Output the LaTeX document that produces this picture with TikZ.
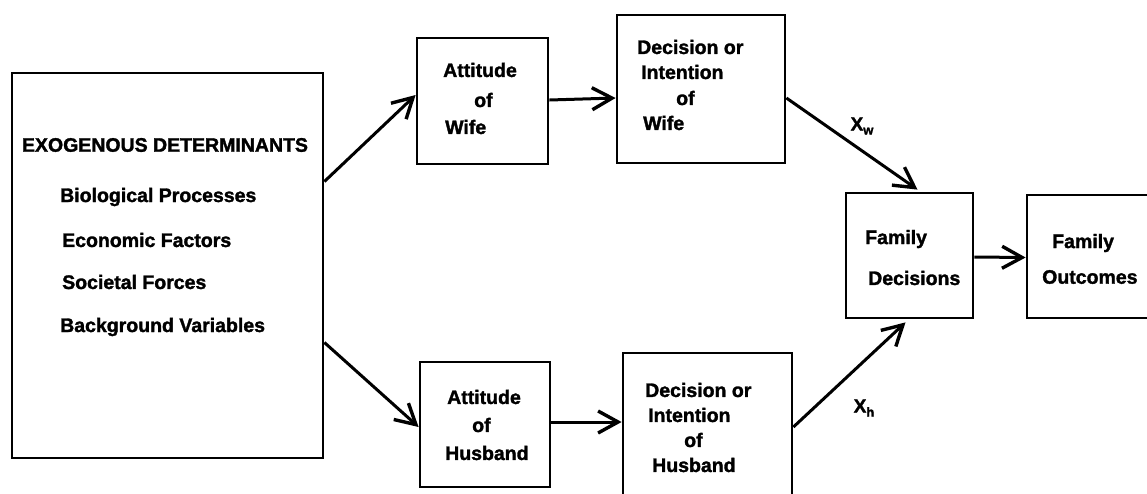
\documentclass[tikz,border=0pt]{standalone}
\usepackage{fontspec}
\setmainfont{Liberation Sans}[BoldFeatures={FakeBold=1.6}]
\usetikzlibrary{arrows.meta}
\begin{document}
\begin{tikzpicture}[x=1pt,y=-1pt,
  box/.style={draw=black,line width=2.8pt,minimum width=#1,inner sep=0pt},
  lbl/.style={anchor=west,inner sep=0pt,font=\fontsize{19.5}{22}\selectfont\bfseries},
  arr/.style={line width=3pt,-{Straight Barb[length=20pt,width=22pt,line width=3.4pt]}},
  tip/.style={inner sep=0pt,font=\fontsize{19}{22}\selectfont\bfseries}]
\useasboundingbox[fill=white] (0,0) rectangle (1147,493);
% boxes
\node[box=311pt,minimum height=385pt] (exo) at (167.5,265.5) {};
\node[box=131pt,minimum height=126pt] (aw) at (482.5,101) {};
\node[box=168pt,minimum height=148pt] (dw) at (701,89) {};
\node[box=130pt,minimum height=125pt] (ah) at (485,424.5) {};
\node[box=169pt,minimum height=150pt] (dh) at (707.5,428) {};
\node[box=127pt,minimum height=125pt] (fd) at (909.5,255.5) {};
\node[box=126pt,minimum height=123pt] (fo) at (1090,256.5) {};
% texts
\node[lbl,anchor=center] (t0) at (165,145) {EXOGENOUS DETERMINANTS};
\node[lbl] (t1) at (60,197) {Biological Processes};
\node[lbl] (t2) at (62,240) {Economic Factors};
\node[lbl] (t3) at (62,282) {Societal Forces};
\node[lbl] (t4) at (60,327) {Background Variables};
\node[lbl] (aw1) at (443,70) {Attitude};
\node[lbl] (aw2) at (474,100) {of};
\node[lbl] (aw3) at (445,127) {Wife};
\node[lbl] (dw1) at (637,47) {Decision or};
\node[lbl] (dw2) at (641,72) {Intention};
\node[lbl] (dw3) at (676,98) {of};
\node[lbl] (dw4) at (643,123) {Wife};
\node[lbl] (ah1) at (447,397) {Attitude};
\node[lbl] (ah2) at (472,425) {of};
\node[lbl] (ah3) at (445,453) {Husband};
\node[lbl] (dh1) at (645,390) {Decision or};
\node[lbl] (dh2) at (648,415) {Intention};
\node[lbl] (dh3) at (684,440) {of};
\node[lbl] (dh4) at (652,465) {Husband};
\node[lbl] (fd1) at (865,239) {Family};
\node[lbl] (fd2) at (868,278) {Decisions};
\node[lbl] (fo1) at (1052,243) {Family};
\node[lbl] (fo2) at (1042,277) {Outcomes};
\node[tip] (xw) at (862,126) {X\raisebox{-4pt}{\fontsize{13}{13}\selectfont w}};
\node[tip] (xh) at (864,408) {X\raisebox{-4pt}{\fontsize{13}{13}\selectfont h}};
% connectors
\draw[arr] ([yshift=84pt]exo.east) -- ([yshift=6pt]aw.west);
\draw[arr] ([yshift=-77pt]exo.east) -- ([yshift=-2.5pt]ah.west);
\draw[arr] ([yshift=1pt]aw.east) -- ([yshift=-9pt]dw.west);
\draw[arr] ([yshift=2.5pt]ah.east) -- ([yshift=6pt]dh.west);
\draw[arr] ([yshift=-9pt]dw.east) -- ([xshift=8pt,yshift=2pt]fd.north);
\draw[arr] ([yshift=1pt]dh.east) -- ([xshift=-4pt,yshift=-3pt]fd.south);
\draw[arr] ([yshift=-1.5pt]fd.east) -- ([yshift=-1pt]fo.west);
\end{tikzpicture}
\end{document}
